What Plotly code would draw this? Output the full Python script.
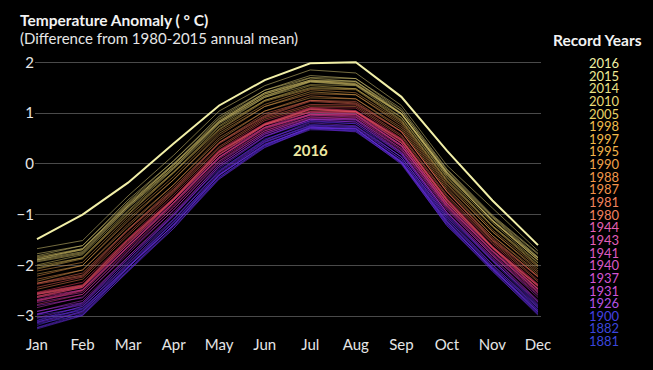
import plotly.graph_objects as go

months = ["Jan", "Feb", "Mar", "Apr", "May", "Jun", "Jul", "Aug", "Sep", "Oct", "Nov", "Dec"]
y_ticks = [-3, -2, -1, 0, 1, 2]

# 1880-1910 (blue)
years_a = [1880, 1881, 1882, 1884, 1887, 1890, 1893, 1896, 1900, 1903, 1906, 1909]
temps_a = [
    [-3.12, -2.86, -2.05, -1.15, -0.22, 0.42, 0.74, 0.68, 0.06, -1.12, -2.06, -2.88],
    [-2.98, -2.84, -1.90, -1.08, -0.12, 0.47, 0.83, 0.79, 0.13, -1.03, -1.92, -2.80],
    [-3.08, -2.80, -2.00, -1.10, -0.14, 0.49, 0.78, 0.73, 0.14, -1.08, -1.98, -2.84],
    [-3.22, -2.95, -2.08, -1.27, -0.26, 0.33, 0.71, 0.64, 0.03, -1.18, -2.12, -2.96],
    [-3.15, -2.97, -2.04, -1.20, -0.27, 0.37, 0.70, 0.69, 0.02, -1.19, -2.04, -2.90],
    [-3.18, -2.90, -2.10, -1.19, -0.21, 0.36, 0.73, 0.66, 0.05, -1.14, -2.08, -2.95],
    [-3.25, -2.99, -2.11, -1.23, -0.29, 0.35, 0.67, 0.66, -0.01, -1.21, -2.07, -2.93],
    [-3.04, -2.89, -1.97, -1.16, -0.17, 0.44, 0.76, 0.74, 0.09, -1.07, -2.03, -2.83],
    [-2.96, -2.76, -1.93, -1.02, -0.09, 0.53, 0.85, 0.79, 0.19, -1.01, -1.90, -2.78],
    [-3.11, -2.91, -2.02, -1.21, -0.22, 0.38, 0.72, 0.70, 0.04, -1.16, -2.05, -2.92],
    [-3.09, -2.85, -2.03, -1.13, -0.20, 0.43, 0.75, 0.71, 0.09, -1.11, -2.01, -2.87],
    [-3.23, -2.98, -2.12, -1.27, -0.30, 0.32, 0.69, 0.63, 0.01, -1.22, -2.10, -2.98],
]

# 1911-1925 (violet)
years_b = [1912, 1915, 1918, 1921, 1924]
temps_b = [
    [-3.13, -2.93, -2.04, -1.21, -0.23, 0.39, 0.71, 0.69, 0.03, -1.14, -2.07, -2.91],
    [-2.95, -2.78, -1.86, -1.03, -0.05, 0.55, 0.85, 0.83, 0.19, -0.99, -1.89, -2.75],
    [-3.03, -2.81, -1.96, -1.09, -0.15, 0.46, 0.81, 0.75, 0.14, -1.04, -1.98, -2.81],
    [-2.90, -2.73, -1.83, -0.99, -0.01, 0.58, 0.88, 0.86, 0.22, -0.96, -1.86, -2.71],
    [-2.97, -2.74, -1.87, -1.00, -0.06, 0.54, 0.88, 0.82, 0.22, -0.96, -1.90, -2.72],
]

# 1926-1950 (magenta / pink)
years_c = [1926, 1929, 1931, 1934, 1937, 1940, 1941, 1943, 1944, 1947, 1950]
temps_c = [
    [-2.79, -2.64, -1.73, -0.91, 0.05, 0.61, 0.93, 0.88, 0.30, -0.88, -1.81, -2.59],
    [-2.91, -2.69, -1.83, -0.96, -0.02, 0.59, 0.88, 0.87, 0.24, -0.95, -1.84, -2.69],
    [-2.73, -2.57, -1.67, -0.85, 0.10, 0.65, 0.96, 0.92, 0.34, -0.84, -1.77, -2.54],
    [-2.83, -2.62, -1.77, -0.90, 0.02, 0.62, 0.90, 0.89, 0.27, -0.91, -1.80, -2.63],
    [-2.69, -2.53, -1.63, -0.81, 0.13, 0.68, 0.98, 0.94, 0.37, -0.81, -1.74, -2.51],
    [-2.67, -2.48, -1.62, -0.76, 0.14, 0.72, 0.98, 0.98, 0.37, -0.79, -1.72, -2.48],
    [-2.63, -2.48, -1.58, -0.76, 0.18, 0.72, 1.02, 0.98, 0.41, -0.77, -1.70, -2.46],
    [-2.61, -2.44, -1.58, -0.72, 0.18, 0.76, 1.02, 1.02, 0.41, -0.77, -1.66, -2.46],
    [-2.57, -2.43, -1.53, -0.71, 0.23, 0.77, 1.07, 1.03, 0.46, -0.72, -1.65, -2.41],
    [-2.69, -2.49, -1.63, -0.77, 0.13, 0.71, 0.97, 0.97, 0.36, -0.82, -1.71, -2.51],
    [-2.77, -2.57, -1.71, -0.85, 0.06, 0.65, 0.92, 0.92, 0.30, -0.86, -1.79, -2.57],
]

# 1951-1986 (red / salmon)
years_d = [1953, 1956, 1959, 1962, 1965, 1968, 1971, 1974, 1977, 1980, 1981, 1983, 1985]
temps_d = [
    [-2.55, -2.39, -1.49, -0.68, 0.25, 0.79, 1.09, 1.04, 0.48, -0.70, -1.63, -2.39],
    [-2.71, -2.50, -1.64, -0.78, 0.12, 0.70, 0.96, 0.96, 0.35, -0.83, -1.72, -2.53],
    [-2.54, -2.38, -1.48, -0.67, 0.26, 0.80, 1.10, 1.05, 0.49, -0.69, -1.62, -2.38],
    [-2.53, -2.33, -1.47, -0.62, 0.27, 0.85, 1.11, 1.10, 0.50, -0.68, -1.57, -2.37],
    [-2.63, -2.43, -1.57, -0.71, 0.18, 0.76, 1.02, 1.01, 0.41, -0.77, -1.66, -2.47],
    [-2.57, -2.41, -1.51, -0.70, 0.23, 0.77, 1.07, 1.02, 0.46, -0.72, -1.65, -2.41],
    [-2.61, -2.41, -1.55, -0.69, 0.20, 0.78, 1.04, 1.03, 0.43, -0.75, -1.64, -2.45],
    [-2.56, -2.40, -1.50, -0.69, 0.24, 0.78, 1.08, 1.03, 0.47, -0.71, -1.64, -2.40],
    [-2.43, -2.23, -1.37, -0.54, 0.34, 0.91, 1.17, 1.16, 0.57, -0.61, -1.51, -2.29],
    [-2.37, -2.21, -1.31, -0.52, 0.40, 0.93, 1.23, 1.18, 0.63, -0.55, -1.50, -2.23],
    [-2.35, -2.15, -1.29, -0.46, 0.42, 0.99, 1.25, 1.23, 0.64, -0.54, -1.45, -2.22],
    [-2.35, -2.19, -1.29, -0.50, 0.42, 0.95, 1.25, 1.20, 0.64, -0.54, -1.48, -2.21],
    [-2.47, -2.27, -1.41, -0.57, 0.31, 0.88, 1.14, 1.13, 0.54, -0.64, -1.54, -2.32],
]

# 1987-2000 (orange / gold)
years_e = [1987, 1988, 1990, 1992, 1994, 1995, 1997, 1998, 2000]
temps_e = [
    [-2.27, -2.09, -1.19, -0.41, 0.51, 1.04, 1.34, 1.28, 0.72, -0.46, -1.41, -2.14],
    [-2.21, -2.00, -1.13, -0.31, 0.56, 1.13, 1.38, 1.36, 0.76, -0.42, -1.33, -2.11],
    [-2.11, -1.94, -1.04, -0.25, 0.64, 1.17, 1.46, 1.40, 0.83, -0.35, -1.30, -2.03],
    [-2.31, -2.09, -1.23, -0.41, 0.47, 1.04, 1.30, 1.28, 0.68, -0.50, -1.41, -2.18],
    [-2.17, -2.00, -1.09, -0.31, 0.60, 1.13, 1.42, 1.36, 0.80, -0.39, -1.34, -2.07],
    [-2.07, -1.87, -1.00, -0.18, 0.67, 1.23, 1.48, 1.46, 0.85, -0.33, -1.24, -2.01],
    [-2.01, -1.85, -0.94, -0.16, 0.73, 1.25, 1.54, 1.48, 0.91, -0.27, -1.22, -1.95],
    [-1.85, -1.69, -0.79, -0.03, 0.85, 1.37, 1.65, 1.58, 0.99, -0.19, -1.13, -1.89],
    [-2.05, -1.85, -0.98, -0.16, 0.69, 1.25, 1.50, 1.48, 0.87, -0.31, -1.22, -1.99],
]

# 2001-2015 (yellow)
years_f = [2002, 2004, 2005, 2007, 2009, 2010, 2012, 2013, 2014, 2015]
temps_f = [
    [-1.91, -1.75, -0.85, -0.07, 0.81, 1.33, 1.62, 1.56, 0.98, -0.21, -1.11, -1.89],
    [-1.99, -1.79, -0.92, -0.10, 0.75, 1.31, 1.56, 1.54, 0.92, -0.25, -1.16, -1.94],
    [-1.83, -1.67, -0.77, 0.00, 0.88, 1.40, 1.69, 1.62, 1.04, -0.15, -1.04, -1.83],
    [-1.89, -1.69, -0.83, -0.02, 0.82, 1.38, 1.63, 1.61, 0.99, -0.16, -1.10, -1.85],
    [-1.93, -1.77, -0.87, -0.09, 0.79, 1.31, 1.61, 1.55, 0.97, -0.22, -1.12, -1.90],
    [-1.81, -1.61, -0.75, 0.06, 0.90, 1.45, 1.70, 1.68, 1.05, -0.12, -1.03, -1.78],
    [-1.89, -1.73, -0.83, -0.06, 0.82, 1.34, 1.63, 1.57, 0.99, -0.18, -1.12, -1.86],
    [-1.87, -1.67, -0.81, 0.00, 0.84, 1.40, 1.65, 1.63, 1.00, -0.17, -1.06, -1.85],
    [-1.77, -1.61, -0.71, 0.06, 0.94, 1.45, 1.74, 1.68, 1.09, -0.10, -1.01, -1.76],
    [-1.67, -1.51, -0.63, 0.17, 1.04, 1.54, 1.85, 1.79, 1.15, -0.03, -0.87, -1.71],
]

temps_2016 = [-1.48, -1.00, -0.37, 0.40, 1.15, 1.65, 1.98, 2.00, 1.32, 0.26, -0.72, -1.60]

record_years = [2016, 2015, 2014, 2010, 2005, 1998, 1997, 1995, 1990, 1988, 1987,
                1981, 1980, 1944, 1943, 1941, 1940, 1937, 1931, 1926, 1900, 1882, 1881]

# ---- styling helpers ----
# colours of the record-year labels
label_stops = [
    (1880, (58, 70, 220)), (1905, (70, 64, 228)), (1918, (130, 70, 228)),
    (1926, (180, 84, 228)), (1931, (204, 84, 218)), (1937, (212, 84, 210)),
    (1944, (228, 96, 180)), (1962, (230, 90, 120)), (1980, (242, 128, 96)),
    (1987, (242, 146, 74)), (1990, (242, 162, 74)), (1997, (242, 186, 74)),
    (2005, (234, 210, 100)), (2014, (234, 226, 132)), (2015, (240, 234, 148)),
    (2016, (242, 242, 164)),
]
# colours of the lines in the bundle
line_stops = [
    (1880, (74, 48, 224)), (1910, (118, 44, 232)), (1924, (156, 48, 222)),
    (1932, (194, 50, 190)), (1945, (218, 56, 146)), (1962, (230, 62, 92)),
    (1980, (236, 100, 84)), (1988, (226, 140, 70)), (1997, (214, 180, 80)),
    (2005, (206, 190, 100)), (2015, (220, 206, 120)),
]


def interp(stops, yr):
    if yr <= stops[0][0]:
        return stops[0][1]
    for (y0, c0), (y1, c1) in zip(stops[:-1], stops[1:]):
        if y0 <= yr <= y1:
            t = (yr - y0) / (y1 - y0)
            return tuple(round(a + (b - a) * t) for a, b in zip(c0, c1))
    return stops[-1][1]


fig = go.Figure()
x_idx = list(range(12))

for yrs, rows in [(years_a, temps_a), (years_b, temps_b), (years_c, temps_c),
                  (years_d, temps_d), (years_e, temps_e), (years_f, temps_f)]:
    for yr, vals in zip(yrs, rows):
        r, g, b = interp(line_stops, yr)
        fig.add_trace(go.Scatter(
            x=x_idx, y=vals, mode="lines",
            line=dict(color=f"rgba({r},{g},{b},0.52)", width=1),
            hoverinfo="skip", showlegend=False))

fig.add_trace(go.Scatter(
    x=x_idx, y=temps_2016, mode="lines",
    line=dict(color="rgb(242,240,168)", width=2),
    hoverinfo="skip", showlegend=False))

# plot area geometry (pixels)
L, R, T, B = 35, 541, 42, 334
W, H = R - L, B - T


def px(xp):
    return (xp - L) / W


def py(yp):
    return (B - yp) / H


FONT = "Lato, 'Open Sans', sans-serif"

ann = [
    dict(x=px(18), y=py(20), text="<b>Temperature Anomaly ( ° C)</b>", xanchor="left",
         yanchor="middle", font=dict(size=15.5, color="#f2f2f2", family=FONT)),
    dict(x=px(18), y=py(38), text="(Difference from 1980-2015 annual mean)", xanchor="left",
         yanchor="middle", font=dict(size=15, color="#e6e6e6", family=FONT)),
    dict(x=px(597), y=py(40), text="<b>Record Years</b>", xanchor="center",
         yanchor="middle", font=dict(size=15.5, color="#f2f2f2", family=FONT)),
    dict(x=6, y=0.28, xref="x", yref="y", text="<b>2016</b>", xanchor="center",
         yanchor="middle", font=dict(size=15, color="rgb(238,232,160)", family=FONT)),
]
for i, yr in enumerate(record_years):
    r, g, b = interp(label_stops, yr)
    ann.append(dict(x=px(604), y=py(63 + i * 12.64), text=str(yr), xanchor="center",
                    yanchor="middle",
                    font=dict(size=13, color=f"rgb({r},{g},{b})", family=FONT)))
for a in ann:
    a.setdefault("xref", "paper")
    a.setdefault("yref", "paper")
    a["showarrow"] = False

fig.update_layout(
    width=653, height=370,
    margin=dict(l=L, r=653 - R, t=T, b=370 - B),
    paper_bgcolor="black", plot_bgcolor="black",
    font=dict(family=FONT, color="#e0e0e0"),
    annotations=ann,
    showlegend=False,
    xaxis=dict(range=[-0.044, 11.066], tickvals=x_idx, ticktext=months,
               showgrid=False, zeroline=False, showline=False, ticks="",
               tickfont=dict(size=15, color="#e6e6e6", family=FONT), fixedrange=True),
    yaxis=dict(range=[-3.35, 2.4], tickvals=y_ticks, showgrid=True,
               gridcolor="#4a4a4a", gridwidth=1, zeroline=False, showline=False,
               ticks="", tickfont=dict(size=15, color="#e6e6e6", family=FONT),
               fixedrange=True),
)

fig.write_html("out.html", config={"displayModeBar": False},
               post_script="document.body.style.margin='0';document.body.style.background='black';")
